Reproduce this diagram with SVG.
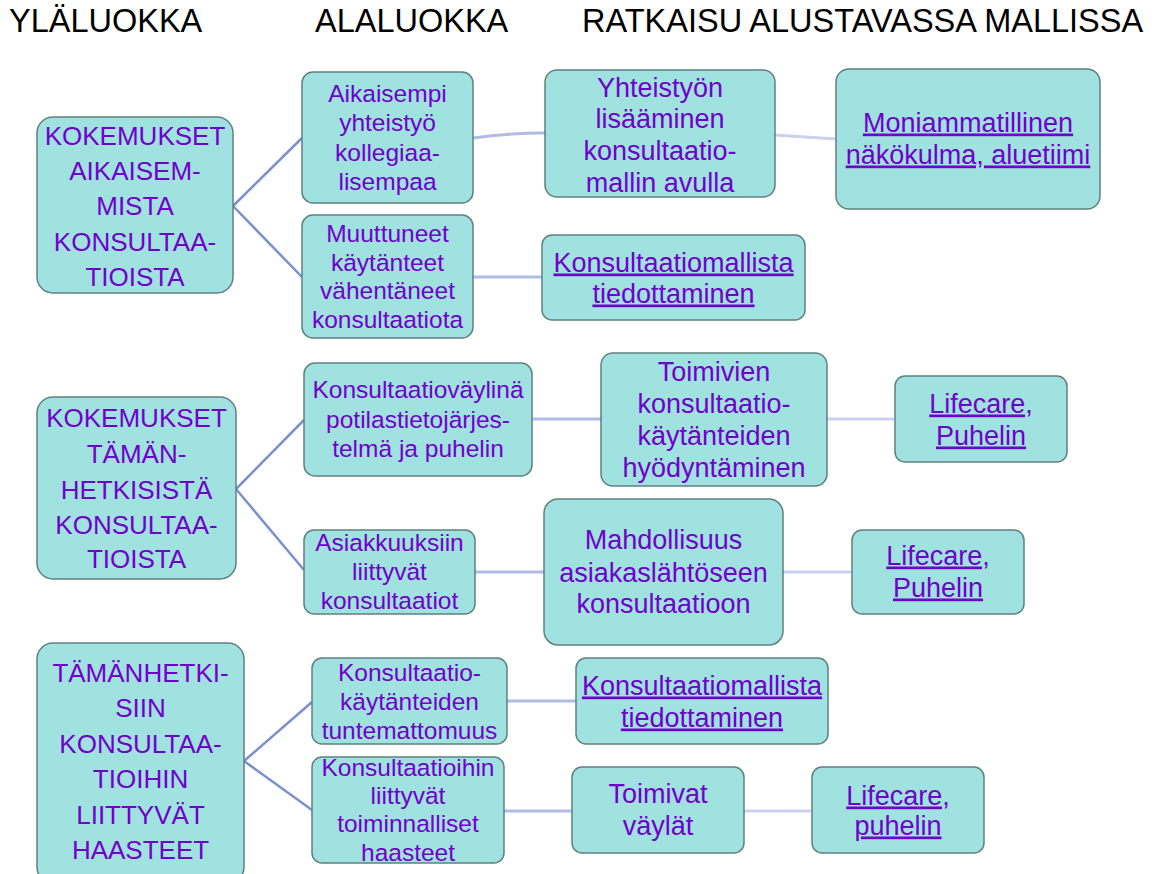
<svg xmlns="http://www.w3.org/2000/svg" width="1157" height="874" viewBox="0 0 1157 874">
<style>
.hdr{font-family:"Liberation Sans",Arial,sans-serif;font-size:32.5px;fill:#000}
.box{fill:#A0E2E0;stroke:#5F8080;stroke-width:1.5}
.t{font-family:"Liberation Sans",Arial,sans-serif;fill:#7000CC;text-anchor:middle}
.big{font-size:26px}
.sm{font-size:24.5px}
.md{font-size:27px}
.u{text-decoration:underline}
.c1{fill:none;stroke:#7A90CF;stroke-width:2.5}
.c2{fill:none;stroke:#B0BCE4;stroke-width:3}
.c3{fill:none;stroke:#CBD1EE;stroke-width:3}
</style>
<rect width="1157" height="874" fill="#fff"/>
<g id="headers">
<text class="hdr" x="9" y="32">YLÄLUOKKA</text>
<text class="hdr" x="315" y="32">ALALUOKKA</text>
<text class="hdr" x="582" y="32">RATKAISU ALUSTAVASSA MALLISSA</text>
</g>
<g id="connectors">
<path class="c1" d="M233,206 L302,138"/>
<path class="c1" d="M233,206 L302,277"/>
<path class="c2" d="M473,138 Q510,133 545,133"/>
<path class="c2" d="M473,277 L542,277"/>
<path class="c3" d="M775,135 L836,139"/>
<path class="c1" d="M236,489 L304,420"/>
<path class="c1" d="M236,489 L304,570"/>
<path class="c2" d="M532,419 L601,419"/>
<path class="c3" d="M827,419 L895,419"/>
<path class="c2" d="M475,572 L544,572"/>
<path class="c3" d="M783,572 L852,572"/>
<path class="c1" d="M244,761 L312,702"/>
<path class="c1" d="M244,761 L312,810"/>
<path class="c2" d="M507,701 L576,701"/>
<path class="c2" d="M504,811 L572,811"/>
<path class="c3" d="M744,811 L812,811"/>
</g>
<g id="n1">
<rect class="box" x="37" y="117" width="196" height="176" rx="16"/>
<text class="t big" x="135" y="144.5">KOKEMUKSET</text>
<text class="t big" x="135" y="179.5">AIKAISEM-</text>
<text class="t big" x="135" y="215">MISTA</text>
<text class="t big" x="135" y="250.5">KONSULTAA-</text>
<text class="t big" x="135" y="285.5">TIOISTA</text>
</g>
<g id="n2">
<rect class="box" x="302" y="72" width="171" height="131" rx="11"/>
<text class="t sm" x="387.5" y="101.5">Aikaisempi</text>
<text class="t sm" x="387.5" y="130.5">yhteistyö</text>
<text class="t sm" x="387.5" y="160.5">kollegiaa-</text>
<text class="t sm" x="387.5" y="189.5">lisempaa</text>
</g>
<g id="n3">
<rect class="box" x="302" y="215" width="171" height="123" rx="11"/>
<text class="t sm" x="387.5" y="241.5">Muuttuneet</text>
<text class="t sm" x="387.5" y="270.5">käytänteet</text>
<text class="t sm" x="387.5" y="298.5">vähentäneet</text>
<text class="t sm" x="387.5" y="327.5">konsultaatiota</text>
</g>
<g id="n4">
<rect class="box" x="545" y="70" width="230" height="127" rx="12"/>
<text class="t md" x="660" y="96.5">Yhteistyön</text>
<text class="t md" x="660" y="128">lisääminen</text>
<text class="t md" x="660" y="159.5">konsultaatio-</text>
<text class="t md" x="660" y="191.5">mallin avulla</text>
</g>
<g id="n5">
<rect class="box" x="542" y="235" width="263" height="85" rx="10"/>
<text class="t md u" x="673.5" y="271.5">Konsultaatiomallista</text>
<text class="t md u" x="673.5" y="302.5">tiedottaminen</text>
</g>
<g id="n6">
<rect class="box" x="836" y="69" width="264" height="140" rx="13"/>
<text class="t md u" x="968" y="131.5">Moniammatillinen</text>
<text class="t md u" x="968" y="163.5">näkökulma, aluetiimi</text>
</g>
<g id="n7">
<rect class="box" x="37" y="397" width="199" height="182" rx="16"/>
<text class="t big" x="136.5" y="426.5">KOKEMUKSET</text>
<text class="t big" x="136.5" y="462.5">TÄMÄN-</text>
<text class="t big" x="136.5" y="498.5">HETKISISTÄ</text>
<text class="t big" x="136.5" y="533.5">KONSULTAA-</text>
<text class="t big" x="136.5" y="567.5">TIOISTA</text>
</g>
<g id="n8">
<rect class="box" x="304" y="363" width="228" height="113" rx="11"/>
<text class="t sm" x="418" y="397.5">Konsultaatioväylinä</text>
<text class="t sm" x="418" y="427.5">potilastietojärjes-</text>
<text class="t sm" x="418" y="456.5">telmä ja puhelin</text>
</g>
<g id="n9">
<rect class="box" x="304" y="530" width="171" height="84" rx="10"/>
<text class="t sm" x="389.5" y="550.5">Asiakkuuksiin</text>
<text class="t sm" x="389.5" y="579.5">liittyvät</text>
<text class="t sm" x="389.5" y="608.5">konsultaatiot</text>
</g>
<g id="n10">
<rect class="box" x="601" y="353" width="226" height="133" rx="12"/>
<text class="t md" x="714" y="380.5">Toimivien</text>
<text class="t md" x="714" y="412.5">konsultaatio-</text>
<text class="t md" x="714" y="444.5">käytänteiden</text>
<text class="t md" x="714" y="476.5">hyödyntäminen</text>
</g>
<g id="n11">
<rect class="box" x="895" y="376" width="172" height="86" rx="10"/>
<text class="t md u" x="981" y="412.5">Lifecare,</text>
<text class="t md u" x="981" y="444.5">Puhelin</text>
</g>
<g id="n12">
<rect class="box" x="544" y="499" width="239" height="146" rx="14"/>
<text class="t md" x="663.5" y="548.5">Mahdollisuus</text>
<text class="t md" x="663.5" y="581.5">asiakaslähtöseen</text>
<text class="t md" x="663.5" y="612.5">konsultaatioon</text>
</g>
<g id="n13">
<rect class="box" x="852" y="530" width="172" height="84" rx="10"/>
<text class="t md u" x="938" y="564.5">Lifecare,</text>
<text class="t md u" x="938" y="596.5">Puhelin</text>
</g>
<g id="n14">
<rect class="box" x="37" y="643" width="207" height="240" rx="16"/>
<text class="t big" x="140.5" y="681.5">TÄMÄNHETKI-</text>
<text class="t big" x="140.5" y="717">SIIN</text>
<text class="t big" x="140.5" y="752.5">KONSULTAA-</text>
<text class="t big" x="140.5" y="788">TIOIHIN</text>
<text class="t big" x="140.5" y="823.5">LIITTYVÄT</text>
<text class="t big" x="140.5" y="859">HAASTEET</text>
</g>
<g id="n15">
<rect class="box" x="312" y="658" width="195" height="86" rx="10"/>
<text class="t sm" x="409.5" y="680.5">Konsultaatio-</text>
<text class="t sm" x="409.5" y="709.5">käytänteiden</text>
<text class="t sm" x="409.5" y="738.5">tuntemattomuus</text>
</g>
<g id="n16">
<rect class="box" x="312" y="757" width="192" height="106" rx="10"/>
<text class="t sm" x="408" y="775.5">Konsultaatioihin</text>
<text class="t sm" x="408" y="803.5">liittyvät</text>
<text class="t sm" x="408" y="831.5">toiminnalliset</text>
<text class="t sm" x="408" y="860.5">haasteet</text>
</g>
<g id="n17">
<rect class="box" x="576" y="658" width="252" height="86" rx="10"/>
<text class="t md u" x="702" y="694.5">Konsultaatiomallista</text>
<text class="t md u" x="702" y="726.5">tiedottaminen</text>
</g>
<g id="n18">
<rect class="box" x="572" y="767" width="172" height="86" rx="10"/>
<text class="t md" x="658" y="802.5">Toimivat</text>
<text class="t md" x="658" y="834.5">väylät</text>
</g>
<g id="n19">
<rect class="box" x="812" y="767" width="172" height="86" rx="10"/>
<text class="t md u" x="898" y="804.5">Lifecare,</text>
<text class="t md u" x="898" y="834.5">puhelin</text>
</g>
</svg>
